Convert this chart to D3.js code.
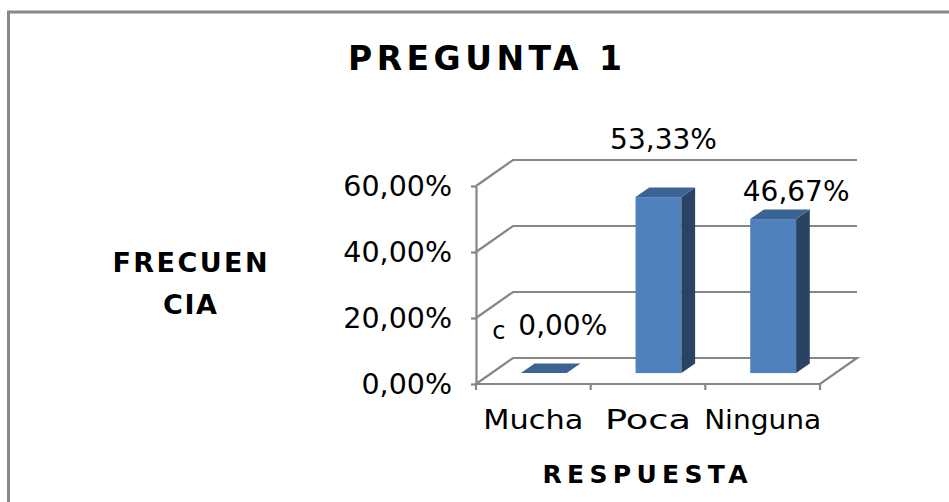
<!DOCTYPE html>
<html><head><meta charset="utf-8">
<script src="https://cdn.jsdelivr.net/npm/d3@7"></script>
<style>html,body{margin:0;padding:0;background:#fff;}svg{display:block;}</style>
</head><body>
<script>
// ---- data ----
const categories = ["Mucha", "Poca", "Ninguna"];
const values = [0.0, 0.5333, 0.4667];
const yTicks = [0, 0.2, 0.4, 0.6];
const title = "PREGUNTA 1";
const yTitle = ["FRECUEN", "CIA"];
const xTitle = "RESPUESTA";
const strayLabel = "c";

// ---- layout ----
const W = 949, H = 502;
const DX = 37, DY = -26;          // full depth of the 3D box
const F0 = 0.42, FD = 0.37;       // bar depth position / depth
const labelNudge = [[19, -28], [5, -38], [23, -8]];
const numFont = "DejaVu Sans";
const boldFont = "'DejaVu Sans', sans-serif";
const gridColor = "#868686";
const frontColor = "#4f81bd", sideColor = "#2a4264", topColor = "#3b6393";

const loc = d3.formatLocale({decimal: ",", thousands: ".", grouping: [3], currency: ["", ""]});
const fmt = loc.format(".2%");

const svg = d3.select("body").append("svg").attr("width", W).attr("height", H);
svg.append("rect").attr("width", W).attr("height", H).attr("fill", "#fff");
svg.append("rect").attr("x", 8.5).attr("y", 12).attr("width", 1200).attr("height", 800)
  .attr("fill", "none").attr("stroke", "#888").attr("stroke-width", 3);

const x = d3.scaleBand().domain(categories).range([476, 820]);
const y = d3.scaleLinear().domain([0, 0.6]).range([384, 186]);
const x1 = x.range()[1];
const xBackEnd = x1 + DX;

// floor
svg.append("path")
  .attr("d", `M${x.range()[0]},${y(0)}L${x.range()[0] + DX},${y(0) + DY}L${xBackEnd},${y(0) + DY}L${x1},${y(0)}Z`)
  .attr("fill", "#fff").attr("stroke", gridColor).attr("stroke-width", 2.2).attr("stroke-linejoin", "miter");

// gridlines (left wall + back wall)
svg.append("g").selectAll("path").data(yTicks.filter(t => t > 0)).join("path")
  .attr("d", t => `M${x.range()[0]},${y(t)}L${x.range()[0] + DX},${y(t) + DY}L${xBackEnd},${y(t) + DY}`)
  .attr("fill", "none").attr("stroke", gridColor).attr("stroke-width", 2.2);

// bars
const bw = x.bandwidth() * 0.40, pad = x.bandwidth() * 0.256;
const bars = categories.map((c, i) => {
  const bx = x(c) + pad + F0 * DX;
  const by0 = y(0) + F0 * DY;
  const h = y(0) - y(values[i]);
  return {c, v: values[i], bx, by0, top: by0 - h, h, i};
});
const gb = svg.append("g");
bars.forEach(b => {
  const ox = FD * DX, oy = FD * DY;
  if (b.h > 0.5) {
    gb.append("rect").attr("x", b.bx).attr("y", b.top).attr("width", bw).attr("height", b.h).attr("fill", frontColor);
    gb.append("path").attr("d", `M${b.bx + bw},${b.by0}L${b.bx + bw + ox},${b.by0 + oy}L${b.bx + bw + ox},${b.top + oy}L${b.bx + bw},${b.top}Z`)
      .attr("fill", sideColor);
  }
  gb.append("path").attr("d", `M${b.bx},${b.top}L${b.bx + bw},${b.top}L${b.bx + bw + ox},${b.top + oy}L${b.bx + ox},${b.top + oy}Z`)
    .attr("fill", topColor);
});

// y axis
const yAxis = svg.append("g").attr("transform", `translate(${x.range()[0]},0)`)
  .call(d3.axisLeft(y).tickValues(yTicks).tickSize(5).tickSizeOuter(0).tickPadding(19).tickFormat(fmt));
yAxis.select(".domain").attr("stroke", gridColor).attr("stroke-width", 2.2);
yAxis.selectAll(".tick line").attr("stroke", gridColor).attr("stroke-width", 2.2);
yAxis.selectAll(".tick text").attr("font-family", numFont).attr("font-size", 28.5).attr("fill", "#000");

// x axis front edge ticks at category boundaries
const bounds = categories.map(c => x(c)).concat([x1]);
svg.append("g").selectAll("line").data(bounds).join("line")
  .attr("x1", d => d).attr("x2", d => d).attr("y1", y(0)).attr("y2", y(0) + 6)
  .attr("stroke", gridColor).attr("stroke-width", 2.2);
const catLen = [100, 86, 117];
svg.append("g").selectAll("text").data(categories).join("text")
  .attr("x", c => x(c) + x.bandwidth() / 2).attr("y", 429)
  .attr("text-anchor", "middle").attr("font-family", numFont).attr("font-size", 27)
  .attr("textLength", (c, i) => catLen[i]).attr("lengthAdjust", "spacingAndGlyphs")
  .attr("fill", "#000").text(c => c);

// data labels
svg.append("g").selectAll("text").data(bars).join("text")
  .attr("x", b => b.bx + bw / 2 + labelNudge[b.i][0])
  .attr("y", b => b.top + FD * DY + labelNudge[b.i][1])
  .attr("text-anchor", "middle").attr("font-family", numFont).attr("font-size", 28)
  .attr("fill", "#000").text(b => fmt(b.v));
svg.append("text")
  .attr("x", bars[0].bx + bw / 2 + labelNudge[0][0] - 64)
  .attr("y", bars[0].top + FD * DY + labelNudge[0][1] + 4)
  .attr("text-anchor", "middle").attr("font-family", numFont).attr("font-size", 24)
  .attr("fill", "#000").text(strayLabel);

// titles
svg.append("text").attr("x", 485).attr("y", 70).attr("text-anchor", "middle")
  .attr("font-family", boldFont).attr("font-weight", "bold").attr("font-size", 33)
  .attr("textLength", 274).attr("lengthAdjust", "spacing").text(title);
svg.append("g").selectAll("text").data(yTitle).join("text")
  .attr("x", 190).attr("y", (d, i) => 272 + i * 42).attr("text-anchor", "middle")
  .attr("font-family", boldFont).attr("font-weight", "bold").attr("font-size", 27)
  .attr("textLength", (d, i) => i === 0 ? 155 : 54).attr("lengthAdjust", "spacing").text(d => d);
svg.append("text").attr("x", 645).attr("y", 483).attr("text-anchor", "middle")
  .attr("font-family", boldFont).attr("font-weight", "bold").attr("font-size", 25)
  .attr("textLength", 205).attr("lengthAdjust", "spacing").text(xTitle);
</script>
</body></html>
